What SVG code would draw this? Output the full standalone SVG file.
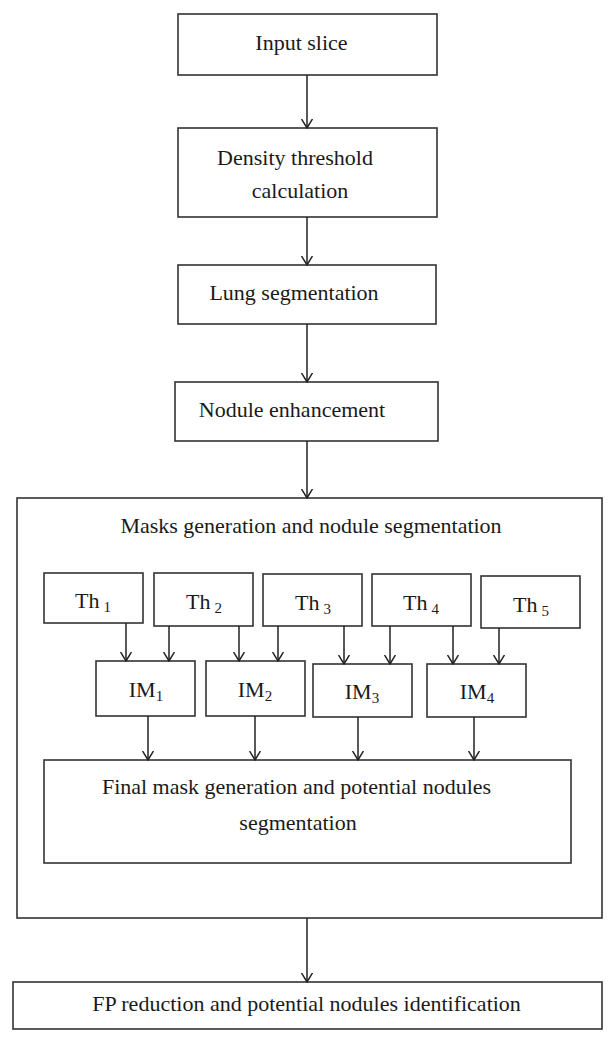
<svg xmlns="http://www.w3.org/2000/svg" width="616" height="1043" viewBox="0 0 616 1043">
<style>
rect{fill:#fff;stroke:#333;stroke-width:1.6}
text{font-family:"Liberation Serif","Times New Roman",serif;font-size:22px;fill:#1a1a1a;text-anchor:middle}
.sub{font-size:15px}
#connectors line{stroke:#222;stroke-width:1.5;marker-end:url(#arr)}
</style>
<defs>
<marker id="arr" viewBox="0 0 10 12" refX="9" refY="6" markerWidth="10" markerHeight="12" markerUnits="userSpaceOnUse" orient="auto">
<path d="M0,0.5 L9,6 L0,11.5" fill="none" stroke="#222" stroke-width="1.5"/>
</marker>
</defs>
<rect x="0" y="0" width="616" height="1043" style="stroke:none;fill:#fff"/>
<g id="outer"><rect x="17" y="498" width="585" height="420"/><text x="311" y="533">Masks generation and nodule segmentation</text></g>
<g id="input"><rect x="178" y="14" width="259" height="61"/><text x="301.5" y="50">Input slice</text></g>
<g id="density"><rect x="178" y="128" width="259" height="89"/><text x="295" y="165">Density threshold</text><text x="300" y="198">calculation</text></g>
<g id="lung"><rect x="178" y="265" width="258" height="59"/><text x="294" y="300">Lung segmentation</text></g>
<g id="nodule"><rect x="175" y="382" width="263" height="59"/><text x="292" y="417">Nodule enhancement</text></g>
<g id="th1"><rect x="44" y="573" width="99" height="50"/><text x="93" y="608">Th<tspan class="sub" dx="4" dy="4">1</tspan></text></g>
<g id="th2"><rect x="154" y="573" width="99" height="53"/><text x="204" y="609">Th<tspan class="sub" dx="4" dy="4">2</tspan></text></g>
<g id="th3"><rect x="263" y="574" width="99" height="52"/><text x="313" y="610">Th<tspan class="sub" dx="4" dy="4">3</tspan></text></g>
<g id="th4"><rect x="372" y="574" width="99" height="52"/><text x="421" y="610">Th<tspan class="sub" dx="4" dy="4">4</tspan></text></g>
<g id="th5"><rect x="481" y="576" width="99" height="52"/><text x="531" y="612">Th<tspan class="sub" dx="4" dy="4">5</tspan></text></g>
<g id="im1"><rect x="96" y="661" width="99" height="55"/><text x="146" y="697">IM<tspan class="sub" dy="4">1</tspan></text></g>
<g id="im2"><rect x="206" y="661" width="99" height="55"/><text x="255" y="697">IM<tspan class="sub" dy="4">2</tspan></text></g>
<g id="im3"><rect x="313" y="664" width="99" height="53"/><text x="362" y="699">IM<tspan class="sub" dy="4">3</tspan></text></g>
<g id="im4"><rect x="427" y="664" width="99" height="53"/><text x="477" y="699">IM<tspan class="sub" dy="4">4</tspan></text></g>
<g id="final"><rect x="44" y="760" width="527" height="103"/><text x="296.5" y="794">Final mask generation and potential nodules</text><text x="298" y="830">segmentation</text></g>
<g id="fp"><rect x="13" y="982" width="589" height="47"/><text x="306.5" y="1011">FP reduction and potential nodules identification</text></g>
<g id="connectors">
<line x1="307" y1="75" x2="307" y2="128"/>
<line x1="307" y1="217" x2="307" y2="265"/>
<line x1="307" y1="324" x2="307" y2="382"/>
<line x1="307" y1="441" x2="307" y2="498"/>
<line x1="307" y1="918" x2="307" y2="982"/>
<line x1="126" y1="623" x2="126" y2="661"/>
<line x1="169" y1="626" x2="169" y2="661"/>
<line x1="239" y1="626" x2="239" y2="661"/>
<line x1="278" y1="626" x2="278" y2="661"/>
<line x1="344" y1="626" x2="344" y2="664"/>
<line x1="390" y1="626" x2="390" y2="664"/>
<line x1="453" y1="626" x2="453" y2="664"/>
<line x1="499" y1="628" x2="499" y2="664"/>
<line x1="148" y1="716" x2="148" y2="760"/>
<line x1="255" y1="716" x2="255" y2="760"/>
<line x1="358" y1="717" x2="358" y2="760"/>
<line x1="474" y1="717" x2="474" y2="760"/>
</g>
</svg>
